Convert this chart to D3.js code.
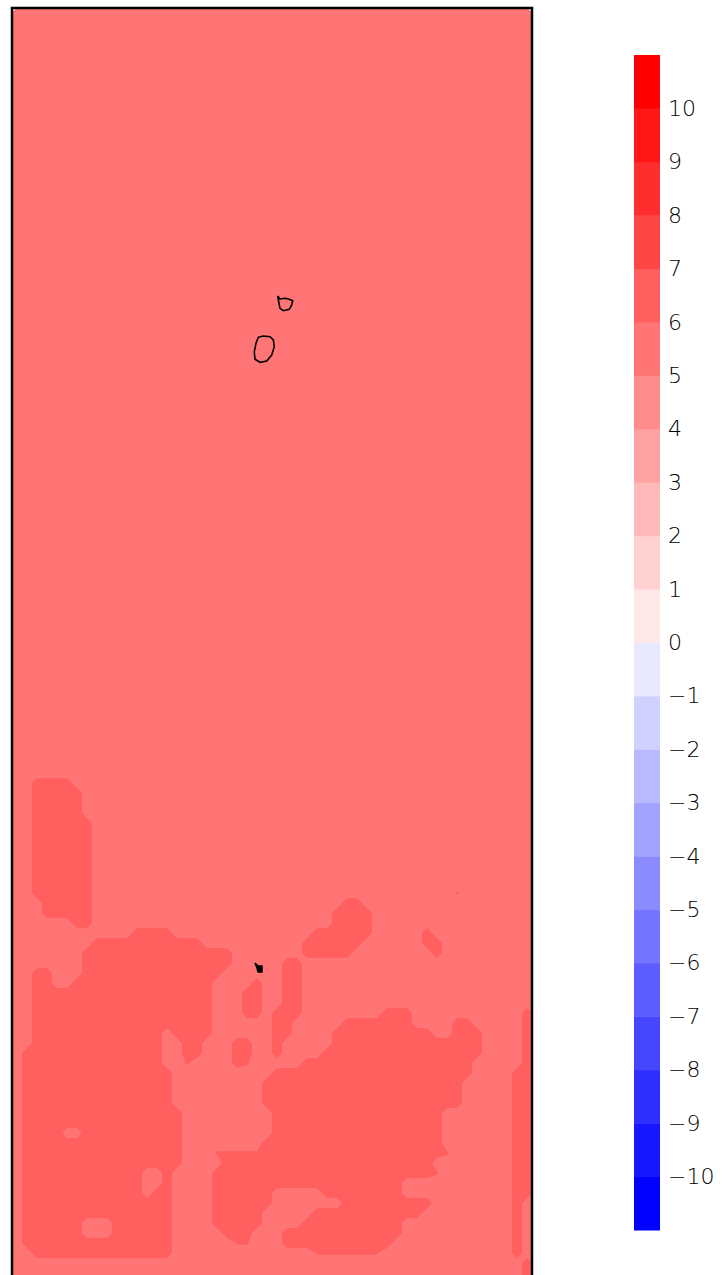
<!DOCTYPE html>
<html lang="en">
<head>
  <meta charset="utf-8">
  <title>Filled contour field</title>
  <script src="https://d3js.org/d3.v7.min.js"></script>
  <style>
    * { box-sizing: border-box; margin: 0; padding: 0; }
    html, body { background: #fff; }
    svg { display: block; }
    .cb-label {
      font-family: "DejaVu Sans", sans-serif;
      font-size: 22px; font-weight: 200; fill: #000;
    }
  </style>
</head>
<body>
  <svg id="chart" width="725" height="1275"></svg>

  <script>
  // grid of the field, 52 columns; rows above the bottom block are all in the 5..6 band
  const gridCols = 52;
  const topRows = 76;
  // '.' = 5..6 band, '#' = 6..7 band, '+' = just over 6 (thin features)
  const bottomRows = [
    "....................................................",
    "..####..............................................",
    "..#####.............................................",
    "..#####.............................................",
    "..#####.............................................",
    "..######............................................",
    "..######............................................",
    "..######............................................",
    "..######............................................",
    "..######............................................",
    "..######............................................",
    "..######............................................",
    "..######....................................+.......",
    "...#####.........................##.................",
    "...#####........................####................",
    "......##........................####................",
    "............####..............######.....#..........",
    "........###########..........######......##.........",
    ".......###############.......#####........#.........",
    ".......###############.....##.......................",
    "..##...##############......##.......................",
    "..##..##############....#..##.......................",
    "..##################...##..##.......................",
    "..##################...##..##.......................",
    "..##################...##.###........###...........#",
    "..##################......##.....#######....##.....#",
    "..#############.####......##....##########..###....#",
    "..#############..##...##..#.....###############....#",
    ".##############..##...##..#....################....#",
    ".##############..+....#+.....#################.....#",
    ".###############..........####################....##",
    ".###############.........####################.....##",
    ".###############.........####################.....##",
    ".###############.........####################.....##",
    ".################.........#################.......##",
    ".################.........#################.......##",
    ".####..##########.........#################.......##",
    ".################........##################.......##",
    ".################...++++++#################+......##",
    ".################....#####################........##",
    ".############..#....######################+.......##",
    ".############..#....###################...........##",
    ".############.##....######.....########...........##",
    ".###############....######.......#########........#",
    ".###############....#####.....###########.........#",
    ".######...######....#####....##########...........#",
    ".######...######.....###...############...........#",
    ".###############......++...###########............#",
    "..##############..............+++++++.............#",
    "...................................................#",
    "...................................................#",
    "...................................................#"
  ];
  const cellValue = { ".": 5.5, "+": 6.1, "#": 6.5 };

  const levels = [-11, -10, -9, -8, -7, -6, -5, -4, -3, -2, -1, 0,
                  1, 2, 3, 4, 5, 6, 7, 8, 9, 10, 11];
  const bandColors = [
    "#0000ff", "#1717ff", "#2e2eff", "#4646ff", "#5d5dff", "#7474ff",
    "#8b8bff", "#a2a2ff", "#b9b9ff", "#d1d1ff", "#e8e8ff",
    "#ffe8e8", "#ffd1d1", "#ffb9b9", "#ffa2a2", "#ff8b8b", "#ff7575",
    "#ff5f5f", "#ff4646", "#ff2e2e", "#ff1717", "#ff0000"
  ];
  const tickValues = [-10, -9, -8, -7, -6, -5, -4, -3, -2, -1, 0,
                      1, 2, 3, 4, 5, 6, 7, 8, 9, 10];

  // black contour line pieces, in grid units
  const loopA = [[26.57, 28.8], [26.8, 29.1], [27.3, 29.03], [27.73, 29.13], [28.07, 29.27],
                 [27.97, 29.7], [27.73, 30.13], [27.13, 30.27], [26.8, 30.03], [26.7, 29.53]];
  const loopB = [[24.63, 32.93], [25.13, 32.8], [25.8, 32.87], [26.13, 33.2], [26.23, 33.87],
                 [25.97, 34.7], [25.47, 35.3], [24.8, 35.43], [24.3, 35.13], [24.23, 34.37],
                 [24.4, 33.53]];
  const blob = [[24.3, 95.5], [24.6, 95.8], [25.0, 95.8], [25.0, 96.4], [24.6, 96.4], [24.5, 96.0]];

  const svg = d3.select("#chart");

  const rows = d3.range(topRows).map(() => "").concat(bottomRows)
    .map(r => r.padEnd(gridCols, "."));
  const nRows = rows.length;
  const values = rows.flatMap(r => Array.from(r, c => cellValue[c]));

  const x = d3.scaleLinear().domain([0, gridCols]).range([12, 532]);
  const y = d3.scaleLinear().domain([0, nRows]).range([8, 8 + nRows * 10]);

  const proj = d3.geoTransform({
    point(px, py) { this.stream.point(x(px), y(py)); }
  });
  const path = d3.geoPath(proj);

  const contours = d3.contours()
    .size([gridCols, nRows])
    .thresholds(levels.slice(0, -1))(values)
    .filter(c => c.coordinates.length);

  svg.append("g")
    .selectAll("path")
    .data(contours)
    .join("path")
      .attr("d", path)
      .attr("fill", d => bandColors[levels.indexOf(d.value)]);

  const line = d3.line()
    .x(d => x(d[0])).y(d => y(d[1]))
    .curve(d3.curveLinearClosed);

  svg.append("g")
    .selectAll("path")
    .data([loopA, loopB])
    .join("path")
      .attr("d", line)
      .attr("fill", "none")
      .attr("stroke", "#000")
      .attr("stroke-width", 1.6);

  svg.append("path")
    .attr("d", line(blob))
    .attr("fill", "#000")
    .attr("stroke", "#000")
    .attr("stroke-width", 1.5);

  svg.append("rect")
    .attr("x", x(0)).attr("y", y(0))
    .attr("width", x(gridCols) - x(0))
    .attr("height", y(nRows) - y(0))
    .attr("fill", "none")
    .attr("stroke", "#000")
    .attr("stroke-width", 2.5);

  // colour bar
  const cbY = d3.scaleLinear().domain([-11, 11]).range([1230, 55]);
  const cb = svg.append("g");

  cb.selectAll("rect")
    .data(bandColors)
    .join("rect")
      .attr("x", 634).attr("width", 26)
      .attr("y", (d, i) => cbY(levels[i + 1]))
      .attr("height", (d, i) => cbY(levels[i]) - cbY(levels[i + 1]) + 0.5)
      .attr("fill", d => d);

  cb.selectAll("text")
    .data(tickValues)
    .join("text")
      .attr("class", "cb-label")
      .attr("x", 668)
      .attr("y", d => cbY(d))
      .attr("dominant-baseline", "central")
      .text(d => d < 0 ? "\u2212" + Math.abs(d) : String(d));
  </script>
</body>
</html>
